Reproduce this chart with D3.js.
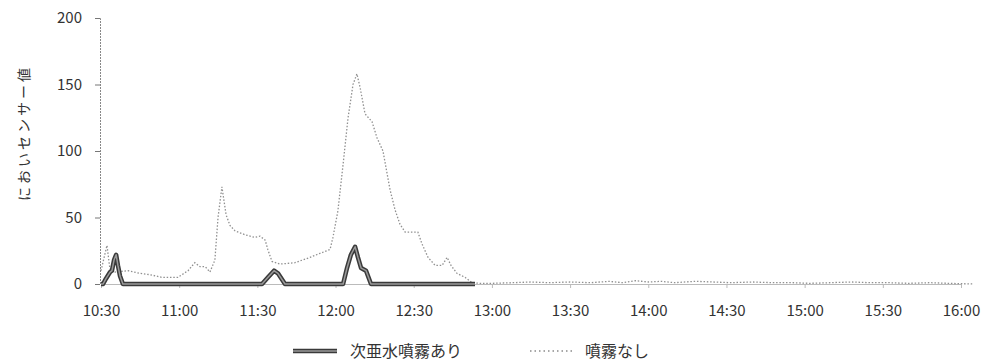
<!DOCTYPE html>
<html><head><meta charset="utf-8">
<script src="https://cdn.jsdelivr.net/npm/d3@7"></script>
<style>
html,body{margin:0;padding:0;background:#fff;}
svg{display:block;}
text{font-family:"Noto Sans CJK JP","Noto Sans",sans-serif;fill:#333;}
</style></head>
<body>
<svg id="chart" width="992" height="363"></svg>
<script>
// Minutes elapsed since 10:30 and sensor values
const startTime = "10:30";
const xTickLabels = ["10:30","11:00","11:30","12:00","12:30","13:00","13:30","14:00","14:30","15:00","15:30","16:00"];
const yTicks = [0,50,100,150,200];
const seriesNames = ["次亜水噴霧あり","噴霧なし"];

const sprayMinutes = [0,0.8,1.9,3.5,4.2,5,5.8,6.5,7.3,8.4,20,40,61.8,64.1,66.4,67.9,70.6,80,92.9,94.4,95.9,97.5,98.6,99.8,101.7,103.6,115,130,143.5];
const sprayValues  = [0,0,4,9,10,18,22,14,6,0,0,0,0,5,10,8,0,0,0,12,22,28,20,12,10,0,0,0,0];

const noSprayMinutes = [0,1.2,2.3,3.5,5.4,10.4,15,18.8,23.4,29.5,33.4,36,38,40,41.8,43.7,44.9,46.4,48,49.5,51.4,55.3,59,61,63,64,65.6,68.7,74.4,80.2,84,87.9,89,90.9,92.9,94.8,96.7,98.2,99.4,101.3,104,105.9,108.2,110.9,112.8,114.7,116.7,121.6,123.2,125.5,128.2,130.9,132.8,134.3,136.6,139.7,142.4,145.4,150,158,165,172,180,188,195,200,205,210,215,220,228,235,242,250,258,265,272,280,288,295,302,310,318,325,335];
const noSprayValues  = [10,20,29,10,9,10,8,7,5,5,10,16,13,13,9,18,50,73,52,44,40,37,35,36,33,26,17,15,16,20,23,26,35,55,90,125,150,158,148,128,122,110,100,71,56,45,39,39,30,20,14,14,20,14,8,5,1,0.5,0.5,1,1.5,1,1.5,1,2,1,2.5,1.5,2,1,2,1.5,1,1.5,1,1,0.5,1,1.5,1,1,0.5,1,0.5,0];

const svg = d3.select("#chart");
const parse = d3.timeParse("%H:%M");
const t0 = parse(startTime);
const toDate = m => new Date(t0.getTime() + m*60000);

const x = d3.scaleTime().domain([parse("10:30"), parse("16:00")]).range([101, 961]);
const y = d3.scaleLinear().domain([0,200]).range([284,18]);

// axes
const yAxis = svg.append("g").attr("transform","translate(100,0)")
  .call(d3.axisLeft(y).tickValues(yTicks).tickSize(5).tickPadding(13));
yAxis.select(".domain").attr("stroke","#888").attr("stroke-dasharray","2,1");
yAxis.selectAll(".tick line").attr("stroke","#777");
yAxis.selectAll("text").style("font-size","15px").attr("fill","#333");

const xAxis = svg.append("g").attr("transform","translate(0,284)")
  .call(d3.axisBottom(x).tickValues(xTickLabels.map(s=>parse(s))).tickFormat(d3.timeFormat("%H:%M")).tickSize(4).tickPadding(17));
xAxis.select(".domain").attr("stroke","#aaa").attr("stroke-width",0.8);
xAxis.selectAll(".tick line").attr("stroke","#bbb");
xAxis.selectAll("text").style("font-size","15px").attr("fill","#333");

// y title
svg.append("text")
  .attr("transform","translate(29,133) rotate(-90)")
  .attr("text-anchor","middle")
  .style("font-size","14px").style("letter-spacing","3px")
  .text("におい センサー値".replace(" ",""));

const line = d3.line().x(d=>x(toDate(d[0]))).y(d=>y(d[1]));

const noSpray = noSprayMinutes.map((m,i)=>[m,noSprayValues[i]]);
const spray = sprayMinutes.map((m,i)=>[m,sprayValues[i]]);

svg.append("path").datum(noSpray).attr("d",line)
  .attr("fill","none").attr("stroke","#909090").attr("stroke-width",1.3)
  .attr("stroke-dasharray","1.5,1.8");

svg.append("path").datum(spray).attr("d",line)
  .attr("fill","none").attr("stroke","#3a3a3a").attr("stroke-width",4.5).attr("stroke-linejoin","round");
svg.append("path").datum(spray).attr("d",line)
  .attr("fill","none").attr("stroke","#9a9a9a").attr("stroke-width",1.5).attr("stroke-linejoin","round");

// legend
const lg = svg.append("g");
lg.append("line").attr("x1",293).attr("x2",337).attr("y1",351).attr("y2",351)
  .attr("stroke","#3a3a3a").attr("stroke-width",4.5);
lg.append("line").attr("x1",293).attr("x2",337).attr("y1",351).attr("y2",351)
  .attr("stroke","#9a9a9a").attr("stroke-width",1.5);
lg.append("text").attr("x",350).attr("y",357).style("font-size","16px").text(seriesNames[0]);
lg.append("line").attr("x1",530).attr("x2",572).attr("y1",351).attr("y2",351)
  .attr("stroke","#8a8a8a").attr("stroke-width",1.3).attr("stroke-dasharray","1.5,3");
lg.append("text").attr("x",585).attr("y",357).style("font-size","16px").text(seriesNames[1]);
</script>
</body></html>
